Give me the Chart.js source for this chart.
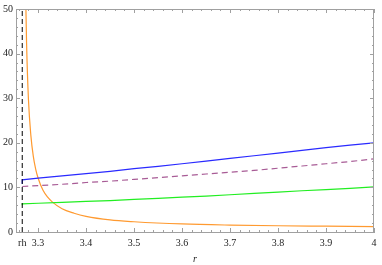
<!DOCTYPE html>
<html>
<head>
<meta charset="utf-8">
<script src="https://cdn.jsdelivr.net/npm/chart.js@4"></script>
<style>
  html, body { margin: 0; padding: 0; background: #fff; }
  #wrap { width: 382px; height: 265px; }
</style>
</head>
<body>
<div id="wrap"><canvas id="plot" width="382" height="265"></canvas></div>
<script>
// horizon radius and tick values
const rh = 3.267;
const xTicks = [3.3, 3.4, 3.5, 3.6, 3.7, 3.8, 3.9, 4.0];
const yTicks = [0, 10, 20, 30, 40, 50];

// smooth curves
const rValues = [3.267, 3.3, 3.35, 3.4, 3.45, 3.5, 3.55, 3.6, 3.65, 3.7, 3.75, 3.8, 3.85, 3.9, 3.95, 4.0];
const blueValues = [11.7, 12.1, 12.6, 13.1, 13.6, 14.2, 14.7, 15.3, 15.9, 16.5, 17.1, 17.7, 18.3, 18.9, 19.5, 20.0];
const purpleValues = [10.2, 10.4, 10.7, 11.1, 11.4, 11.8, 12.2, 12.6, 13.0, 13.4, 13.8, 14.3, 14.8, 15.3, 15.8, 16.4];
const greenValues = [6.3, 6.45, 6.65, 6.85, 7.05, 7.3, 7.55, 7.8, 8.05, 8.35, 8.65, 8.95, 9.25, 9.5, 9.8, 10.1];

const orangeR = [3.274, 3.276, 3.28, 3.285, 3.29, 3.295, 3.3, 3.31, 3.32, 3.33, 3.35, 3.375, 3.4, 3.45, 3.5, 3.6, 3.7, 3.8, 3.9, 4.0];
const orangeValues = [54, 42.5, 29.6, 21.6, 17.0, 14.1, 12.1, 9.4, 7.8, 6.7, 5.2, 4.2, 3.5, 2.7, 2.3, 1.8, 1.55, 1.4, 1.3, 1.2];

const toPoints = (xs, ys) => xs.map((x, i) => ({ x: x, y: ys[i] }));

const frameColor = "#a0a0a0";
const labelFont = { family: "'Liberation Serif', 'DejaVu Serif', serif", size: 10 };

// Mathematica-style frame: top/right edges and inward ticks
const frameTicks = {
  id: "frameTicks",
  afterDraw(chart) {
    const { ctx, chartArea: a, scales } = chart;
    const xs = scales.x, ys = scales.y;
    ctx.save();
    ctx.strokeStyle = frameColor;
    ctx.lineWidth = 1;
    ctx.beginPath();
    ctx.moveTo(a.left, a.top + 0.5);
    ctx.lineTo(a.right, a.top + 0.5);
    ctx.moveTo(a.right - 0.5, a.top);
    ctx.lineTo(a.right - 0.5, a.bottom);
    // x ticks, minor every 0.02
    for (let i = 163; i <= 200; i++) {
      const v = i / 50;
      if (v < xs.min || v > xs.max) continue;
      const major = i % 5 === 0;
      const len = major ? 4 : 2;
      const px = Math.round(xs.getPixelForValue(v)) + 0.5;
      ctx.moveTo(px, a.bottom);
      ctx.lineTo(px, a.bottom - len);
      ctx.moveTo(px, a.top);
      ctx.lineTo(px, a.top + len);
    }
    // y ticks, minor every 2
    for (let v = 0; v <= 50; v += 2) {
      const major = v % 10 === 0;
      const len = major ? 4 : 2;
      const py = Math.round(ys.getPixelForValue(v)) + 0.5;
      ctx.moveTo(a.left, py);
      ctx.lineTo(a.left + len, py);
      ctx.moveTo(a.right, py);
      ctx.lineTo(a.right - len, py);
    }
    ctx.stroke();
    ctx.restore();
  },
};

new Chart(document.getElementById("plot"), {
  type: "line",
  data: {
    datasets: [
      {
        label: "rh",
        data: toPoints([rh, rh], [0, 50]),
        borderColor: "#000",
        borderWidth: 1,
        borderDash: [5, 3],
      },
      {
        label: "blue",
        data: [{ x: rh, y: 10.8 }].concat(toPoints(rValues, blueValues)),
        borderColor: "#2a2aff",
        borderWidth: 1.2,
      },
      {
        label: "purple",
        data: toPoints(rValues, purpleValues),
        borderColor: "#a85c96",
        borderWidth: 1.2,
        borderDash: [6, 4],
      },
      {
        label: "green",
        data: [{ x: rh, y: 6.0 }].concat(toPoints(rValues, greenValues)),
        borderColor: "#22ee22",
        borderWidth: 1.2,
      },
      {
        label: "orange",
        data: toPoints(orangeR, orangeValues),
        borderColor: "#ff9a30",
        borderWidth: 1.2,
        cubicInterpolationMode: "monotone",
      },
    ],
  },
  options: {
    responsive: false,
    animation: false,
    events: [],
    layout: { padding: { top: 5, right: 8, left: 0, bottom: 0 } },
    elements: { point: { radius: 0 }, line: { tension: 0 } },
    plugins: { legend: { display: false }, tooltip: { enabled: false } },
    scales: {
      x: {
        type: "linear",
        min: 3.254,
        max: 4.0,
        afterBuildTicks: (scale) => {
          scale.ticks = [rh].concat(xTicks).map((v) => ({ value: v }));
        },
        afterFit: (scale) => { scale.height = 33; },
        grid: { display: false, drawTicks: false },
        border: { display: true, color: frameColor },
        ticks: {
          autoSkip: false,
          maxRotation: 0,
          padding: 5,
          color: "#222",
          font: labelFont,
          callback: (v) => (v === rh ? "rh" : String(Number(v.toFixed(1)))),
        },
        title: {
          display: true,
          text: "r",
          color: "#222",
          font: { family: labelFont.family, size: 10, style: "italic" },
          padding: { top: 0, bottom: 0 },
        },
      },
      y: {
        type: "linear",
        min: 0,
        max: 50,
        afterBuildTicks: (scale) => {
          scale.ticks = yTicks.map((v) => ({ value: v }));
        },
        afterFit: (scale) => { scale.width = 16; },
        grid: { display: false, drawTicks: false },
        border: { display: true, color: frameColor },
        ticks: { padding: 3, color: "#222", font: labelFont },
      },
    },
  },
  plugins: [frameTicks],
});
</script>
</body>
</html>
